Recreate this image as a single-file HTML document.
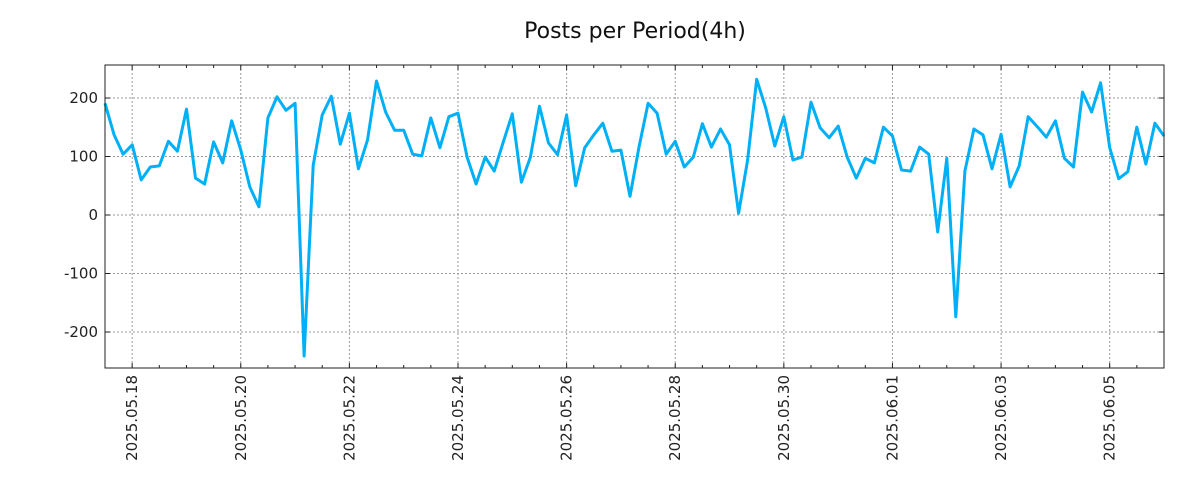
<!DOCTYPE html>
<html><head><meta charset="utf-8"><style>
body{margin:0;background:#fff;font-family:"DejaVu Sans","Liberation Sans",sans-serif}
svg text{font-family:"DejaVu Sans","Liberation Sans",sans-serif}
</style></head><body>
<svg id="chart" width="1200" height="500" xmlns="http://www.w3.org/2000/svg">
<rect width="1200" height="500" fill="#fff"/>
<text x="635" y="38" font-size="22" text-anchor="middle" fill="#111">Posts per Period(4h)</text>
<g id="grid"></g><g id="series"></g><g id="axes"></g>
</svg>
<script>
const values=[191,137,104,120,60,82,84,126,109,181,
63,53,125,89,161,111,48,14,166,202,
179,191,-241,85,171,203,121,174,79,128,
229,176,145,145,104,101,166,115,168,174,
99,53,99,75,125,173,56,99,186,123,
103,171,50,115,137,157,109,111,32,116,
191,174,104,126,82,99,156,116,147,120,
3,94,232,183,118,168,94,99,193,149,
132,152,99,63,97,89,150,135,77,75,
116,104,-29,97,-174,75,147,137,79,138,
48,84,168,151,133,161,97,82,210,176,
226,115,62,74,150,87,157,135];
const xTickLabels=["2025.05.18","2025.05.20","2025.05.22","2025.05.24","2025.05.26","2025.05.28","2025.05.30","2025.06.01","2025.06.03","2025.06.05"];
const yTicks=[-200,-100,0,100,200];
const startHour=-12; // first point: 2025.05.17 12:00, hours relative to 05.18 00:00
const periodHours=4;
const L=105,R=1164,T=65,B=368;
const n=values.length;
const tMin=startHour,tMax=startHour+(n-1)*periodHours;
const x=h=>L+(h-tMin)/(tMax-tMin)*(R-L);
const yMin=-261.5,yMax=256.4;
const y=v=>B-(v-yMin)/(yMax-yMin)*(B-T);
const NS="http://www.w3.org/2000/svg";
function mk(tag,parent,attrs){const e=document.createElementNS(NS,tag);for(const k in attrs)e.setAttribute(k,attrs[k]);parent.appendChild(e);return e;}
const grid=document.getElementById('grid'),axes=document.getElementById('axes'),series=document.getElementById('series');
yTicks.forEach(v=>{
  const g=mk('line',grid,{x1:L,x2:R,y1:y(v),y2:y(v),stroke:'#999','stroke-dasharray':'2,2','stroke-width':1});
  
  
  mk('line',axes,{x1:L,x2:L+5,y1:y(v),y2:y(v),stroke:'#222'});
  mk('line',axes,{x1:R,x2:R-5,y1:y(v),y2:y(v),stroke:'#222'});
  const t=mk('text',axes,{x:L-7,y:y(v)+5,'font-size':15,'text-anchor':'end',fill:'#222'});
  t.textContent=v;
  
  
});
for(let h=0;h<=tMax;h+=12){
  if(h<tMin)continue;
  const xx=x(h);
  const major=h%48===0;
  mk('line',axes,{x1:xx,x2:xx,y1:B,y2:B-(major?5:3),stroke:'#222'});
  mk('line',axes,{x1:xx,x2:xx,y1:T,y2:T+(major?5:3),stroke:'#222'});
}
xTickLabels.forEach((lab,i)=>{
  const xx=x(i*48);
  const g=mk('line',grid,{x1:xx,x2:xx,y1:T,y2:B,stroke:'#999','stroke-dasharray':'2,2','stroke-width':1});
  
  
  const t=mk('text',axes,{x:0,y:0,'font-size':15,'text-anchor':'end',fill:'#222',transform:`translate(${xx+5},375) rotate(-90)`});
  t.textContent=lab;
  
  
});
const fr=mk('rect',axes,{x:L,y:T,width:R-L,height:B-T,fill:'none',stroke:'#222','stroke-width':1});


const pts=values.map((v,i)=>x(tMin+i*periodHours).toFixed(1)+','+y(v).toFixed(1)).join(' ');
const line=mk('polyline',series,{points:pts,fill:'none',stroke:'#00b0f6','stroke-width':3,'stroke-linejoin':'round'});


</script>
</body></html>
